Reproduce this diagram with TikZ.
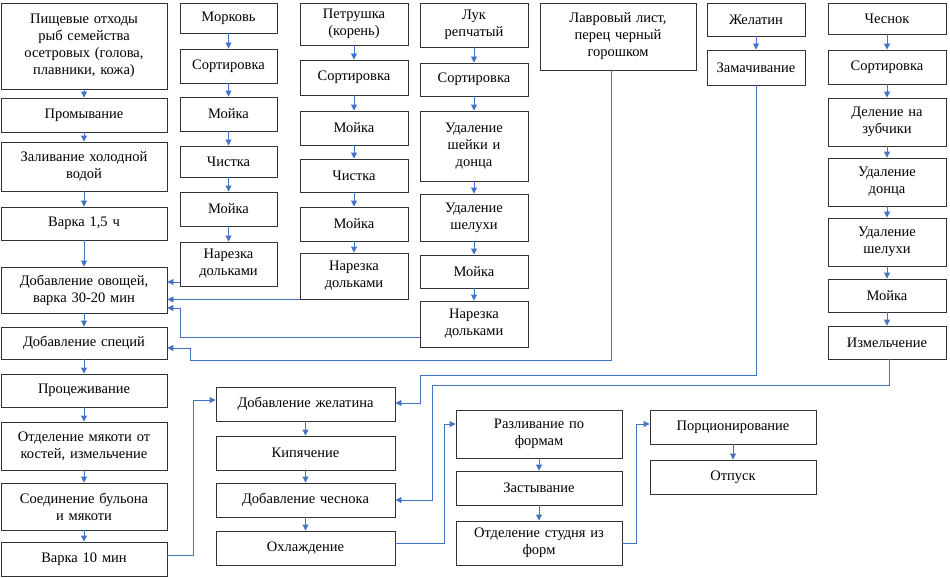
\documentclass[tikz,border=0pt]{standalone}
\usepackage{fontspec}
\setmainfont{Liberation Serif}
\usetikzlibrary{arrows.meta}
\definecolor{ab}{HTML}{4472C4}
\tikzset{
 bx/.style={draw=black!80,line width=0.9pt,align=center,inner sep=1pt,font=\fontsize{14.5}{17}\selectfont},
 ar/.style={draw=ab,line width=0.9pt,-{Triangle[length=6pt,width=6pt]}}
}
\newcommand{\B}[6]{\node[bx,minimum width=#4-#2,minimum height=#5-#3,text width=#4-#2-4] (#1) at ({(#2+#4)/2},{(#3+#5)/2}) {#6};}
\begin{document}
\begin{tikzpicture}[x=1pt,y=-1pt]
\useasboundingbox (0,0) rectangle (950,578);
\B{A1}{1}{3}{167}{89}{Пищевые отходы\\рыб семейства\\осетровых (голова,\\плавники, кожа)}
\B{A2}{1}{98}{167}{132}{Промывание}
\B{A3}{1}{142}{167}{191}{Заливание холодной\\водой}
\B{A4}{1}{207}{167}{240}{Варка 1,5 ч}
\B{A5}{1}{267}{167}{313}{Добавление овощей,\\варка 30-20 мин}
\B{A6}{1}{327}{167}{359}{Добавление специй}
\B{A7}{1}{374}{167}{407}{Процеживание}
\B{A8}{1}{422}{167}{470}{Отделение мякоти от\\костей, измельчение}
\B{A9}{1}{483}{167}{530}{Соединение бульона\\и мякоти}
\B{A10}{1}{542}{167}{576}{Варка 10 мин}
\B{B1}{180}{3}{277}{33}{Морковь}
\B{B2}{180}{49}{277}{83}{Сортировка}
\B{B3}{180}{97}{277}{131}{Мойка}
\B{B4}{180}{146}{277}{177}{Чистка}
\B{B5}{180}{192}{277}{226}{Мойка}
\B{B6}{180}{242}{277}{286}{Нарезка\\дольками}
\B{C1}{300}{3}{408}{45}{Петрушка\\(корень)}
\B{C2}{300}{60}{408}{95}{Сортировка}
\B{C3}{300}{111}{408}{145}{Мойка}
\B{C4}{300}{159}{408}{192}{Чистка}
\B{C5}{300}{207}{408}{241}{Мойка}
\B{C6}{300}{253}{408}{299}{Нарезка\\дольками}
\B{D1}{420}{3}{528}{47}{Лук\\репчатый}
\B{D2}{420}{63}{528}{96}{Сортировка}
\B{D3}{420}{111}{528}{181}{Удаление\\шейки и\\донца}
\B{D4}{420}{194}{528}{241}{Удаление\\шелухи}
\B{D5}{420}{255}{528}{288}{Мойка}
\B{D6}{420}{301}{528}{347}{Нарезка\\дольками}
\B{E}{540}{3}{696}{70}{Лавровый лист,\\перец черный\\горошком}
\B{F1}{707}{3}{805}{36}{Желатин}
\B{F2}{707}{50}{805}{85}{Замачивание}
\B{G1}{828}{3}{946}{34}{Чеснок}
\B{G2}{828}{50}{946}{84}{Сортировка}
\B{G3}{828}{98}{946}{146}{Деление на\\зубчики}
\B{G4}{828}{158}{946}{206}{Удаление\\донца}
\B{G5}{828}{218}{946}{266}{Удаление\\шелухи}
\B{G6}{828}{279}{946}{312}{Мойка}
\B{G7}{828}{326}{946}{359}{Измельчение}
\B{H1}{216}{387}{395}{421}{Добавление желатина}
\B{H2}{216}{436}{395}{470}{Кипячение}
\B{H3}{216}{483}{395}{517}{Добавление чеснока}
\B{H4}{216}{531}{395}{565}{Охлаждение}
\B{I1}{456}{410}{622}{458}{Разливание по\\формам}
\B{I2}{456}{471}{622}{505}{Застывание}
\B{I3}{456}{521}{622}{565}{Отделение студня из\\форм}
\B{J1}{650}{410}{816}{444}{Порционирование}
\B{J2}{650}{460}{816}{494}{Отпуск}
\foreach \a/\b in {A1/A2,A2/A3,A3/A4,A4/A5,A5/A6,A6/A7,A7/A8,A8/A9,A9/A10,
 B1/B2,B2/B3,B3/B4,B4/B5,B5/B6,C1/C2,C2/C3,C3/C4,C4/C5,C5/C6,
 D1/D2,D2/D3,D3/D4,D4/D5,D5/D6,F1/F2,G1/G2,G2/G3,G3/G4,G4/G5,G5/G6,G6/G7,
 H1/H2,H2/H3,H3/H4,I1/I2,I2/I3,J1/J2}
 \draw[ar] (\a) -- (\b);
\draw[ar] (B6.west |- 0,282) -- (A5.east |- 0,282);
\draw[ar] (C6.south west) -- (A5.east |- C6.south west);
\draw[ar] (D6.west |- 0,337) -- (180,337) -- (180,308) -- (A5.east |- 0,308);
\draw[ar] (E.south -| 611,0) -- (611,360) -- (190,360) -- (190,348) -- (A6.east |- 0,348);
\draw[ar] (F2.south -| 756,0) -- (756,375) -- (420,375) -- (420,403) -- (H1.east |- 0,403);
\draw[ar] (G7.south -| 889,0) -- (889,385) -- (432,385) -- (432,500) -- (H3.east |- 0,500);
\draw[ar] (A10.east |- 0,555) -- (193,555) -- (193,400) -- (H1.west |- 0,400);
\draw[ar] (H4.east |- 0,543) -- (444,543) -- (444,424) -- (I1.west |- 0,424);
\draw[ar] (I3.east |- 0,543) -- (636,543) -- (636,424) -- (J1.west |- 0,424);
\end{tikzpicture}
\end{document}
